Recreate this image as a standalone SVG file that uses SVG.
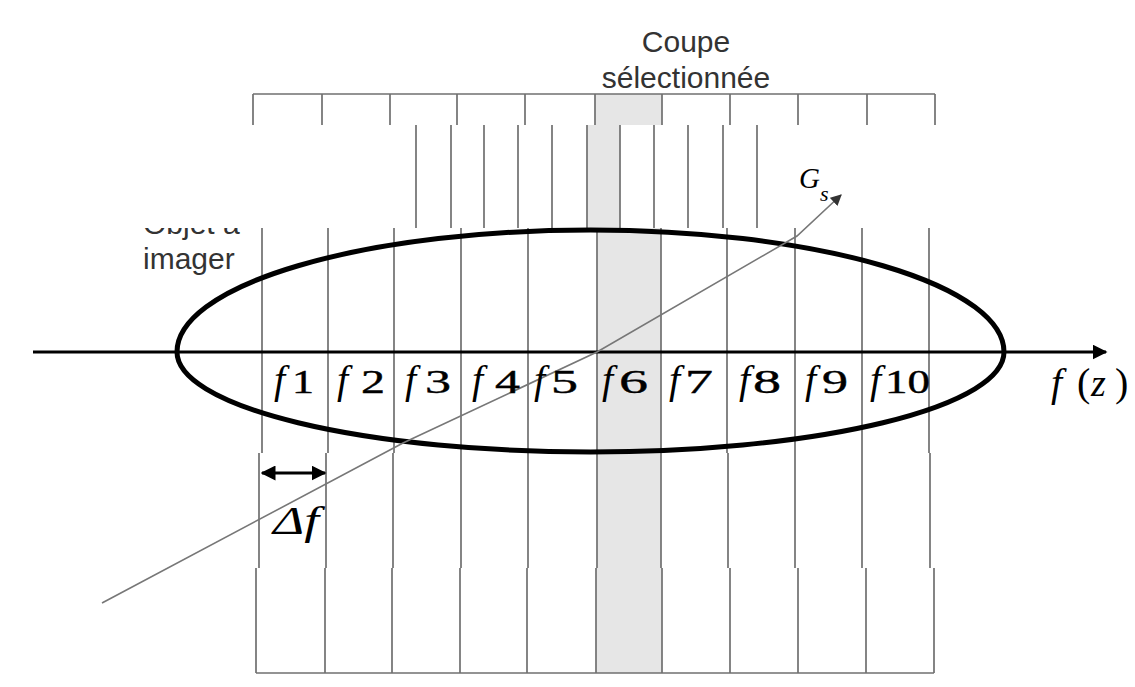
<svg xmlns="http://www.w3.org/2000/svg" width="1135" height="687" viewBox="0 0 1135 687">
<style>
.g{stroke:#707070;stroke-width:1.7;fill:none}
.sel{fill:#e6e6e6}
.sans{font-family:"Liberation Sans",Arial,sans-serif;fill:#333}
.ser{font-family:"Liberation Serif","Times New Roman",serif;fill:#000}
.it{font-style:italic}
.fl{font-size:40px;font-style:italic}
.dg{font-size:34px;stroke:#000;stroke-width:0.4}
</style>
<defs>
<marker id="ah" viewBox="0 0 10 10" refX="9" refY="5" markerWidth="5" markerHeight="5" orient="auto-start-reverse" markerUnits="strokeWidth"><path d="M0,0 L10,5 L0,10 z" fill="#000"/></marker>
<marker id="ahs" viewBox="0 0 10 10" refX="9" refY="5" markerWidth="7" markerHeight="7" orient="auto" markerUnits="strokeWidth"><path d="M0,0 L10,5 L0,10 z" fill="#333"/></marker>
</defs>
<rect width="1135" height="687" fill="#fff"/>

<g id="labels-top">
<text class="sans" x="686" y="52" font-size="30" text-anchor="middle">Coupe</text>
<text class="sans" x="686" y="88" font-size="30" text-anchor="middle">sélectionnée</text>
</g>

<g id="slices">
<rect class="sel" x="595" y="94" width="67" height="31"/>
<path class="g" d="M253,94 H935 M253,94 V125 M322,94 V125 M390,94 V125 M457,94 V125 M525,94 V125 M595,94 V125 M662,94 V125 M730,94 V125 M798,94 V125 M867,94 V125 M935,94 V125"/>
<rect class="sel" x="587" y="125" width="33" height="103"/>
<path class="g" d="M416,125 V228 M451,125 V228 M484,125 V228 M518,125 V228 M552,125 V228 M587,125 V228 M620,125 V228 M654,125 V228 M688,125 V228 M723,125 V228 M757,125 V228"/>
<rect class="sel" x="597" y="228" width="64" height="225"/>
<path class="g" d="M262,228 V453 M328,228 V453 M394,228 V453 M461,228 V453 M528,228 V453 M597,228 V453 M661,228 V453 M727,228 V453 M795,228 V453 M862,228 V453 M929,228 V453"/>
<rect class="sel" x="597" y="453" width="64" height="115"/>
<path class="g" d="M259,453 V568 M326,453 V568 M393,453 V568 M461,453 V568 M528,453 V568 M597,453 V568 M661,453 V568 M728,453 V568 M795,453 V568 M862,453 V568 M930,453 V568"/>
<rect class="sel" x="596" y="568" width="66" height="105"/>
<path class="g" d="M256,568 V673 M325,568 V673 M392,568 V673 M460,568 V673 M527,568 V673 M596,568 V673 M662,568 V673 M730,568 V673 M798,568 V673 M866,568 V673 M934,568 V673 M256,673 H934"/>
</g>

<g id="object">
<path d="M177,352 A413.5,122 0 0 1 1004,352 A413.5,100 0 0 1 177,352 Z" fill="none" stroke="#000" stroke-width="5"/>
<text class="sans" x="143" y="234" font-size="30">Objet à</text>
<text class="sans" x="143" y="269" font-size="30">imager</text>
</g>

<g id="axis">
<line x1="33" y1="352" x2="1106" y2="352" stroke="#000" stroke-width="3" marker-end="url(#ah)"/>
<text class="ser" y="396"><tspan class="fl" x="1051">f</tspan><tspan x="1077" font-size="40">(</tspan><tspan x="1091" font-size="38" class="it">z</tspan><tspan x="1115" font-size="40">)</tspan></text>
</g>

<g id="connectors">
<polyline points="102,603 403,443 597,352 797,236 841,195" fill="none" stroke="#777" stroke-width="1.6" marker-end="url(#ahs)"/>
<line x1="262" y1="473" x2="325" y2="473" stroke="#000" stroke-width="3" marker-start="url(#ah)" marker-end="url(#ah)"/>
</g>

<g id="slice-labels" class="ser">
<text y="393"><tspan class="fl" x="274">f</tspan><tspan class="dg" x="292" textLength="22" lengthAdjust="spacingAndGlyphs">1</tspan></text>
<text y="393"><tspan class="fl" x="337">f</tspan><tspan class="dg" x="361" textLength="24" lengthAdjust="spacingAndGlyphs">2</tspan></text>
<text y="393"><tspan class="fl" x="405">f</tspan><tspan class="dg" x="425" textLength="26" lengthAdjust="spacingAndGlyphs">3</tspan></text>
<text y="393"><tspan class="fl" x="472">f</tspan><tspan class="dg" x="495" textLength="25" lengthAdjust="spacingAndGlyphs">4</tspan></text>
<text y="393"><tspan class="fl" x="534">f</tspan><tspan class="dg" x="551" textLength="27" lengthAdjust="spacingAndGlyphs">5</tspan></text>
<text y="393"><tspan class="fl" x="602">f</tspan><tspan class="dg" x="619" textLength="29" lengthAdjust="spacingAndGlyphs">6</tspan></text>
<text y="393"><tspan class="fl" x="669">f</tspan><tspan class="dg" x="685" textLength="28" lengthAdjust="spacingAndGlyphs">7</tspan></text>
<text y="393"><tspan class="fl" x="739">f</tspan><tspan class="dg" x="753" textLength="28" lengthAdjust="spacingAndGlyphs">8</tspan></text>
<text y="393"><tspan class="fl" x="805">f</tspan><tspan class="dg" x="822" textLength="26" lengthAdjust="spacingAndGlyphs">9</tspan></text>
<text y="393"><tspan class="fl" x="870">f</tspan><tspan class="dg" x="885" textLength="45" lengthAdjust="spacingAndGlyphs">10</tspan></text>
</g>

<g id="other-labels" class="ser">
<text x="799" y="188" font-size="29" class="it">G<tspan font-size="22" dy="13">s</tspan></text>
<text x="273" y="534" font-size="40" class="it" textLength="46" lengthAdjust="spacingAndGlyphs">Δf</text>
</g>

<rect x="0" y="125" width="300" height="103" fill="#fff"/>
</svg>
